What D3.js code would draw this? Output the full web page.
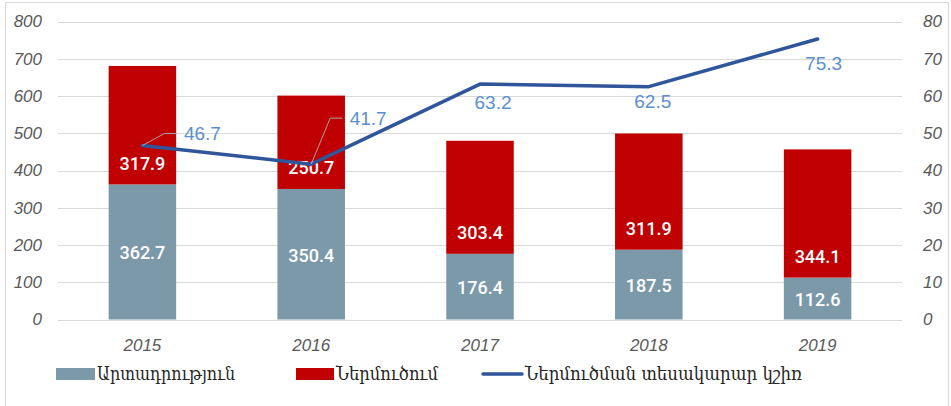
<!DOCTYPE html>
<html>
<head>
<meta charset="utf-8">
<script src="https://cdn.jsdelivr.net/npm/d3@7"></script>
<style>
  body { margin: 0; background: #fff; }
  svg { display: block; }
</style>
</head>
<body>
<div class="chart"></div>
<script>
// chart data
let years = ["2015", "2016", "2017", "2018", "2019"];
let production = [362.7, 350.4, 176.4, 187.5, 112.6]; // Արտադրություն
let imports = [317.9, 250.7, 303.4, 311.9, 344.1]; // Ներմուծում
let importShare = [46.7, 41.7, 63.2, 62.5, 75.3]; // Ներմուծման տեսակարար կշիռ
let leftTicks = [0, 100, 200, 300, 400, 500, 600, 700, 800];
let rightTicks = [0, 10, 20, 30, 40, 50, 60, 70, 80];
let seriesNames = ["Արտադրություն", "Ներմուծում", "Ներմուծման տեսակարար կշիռ"];

// line label placement relative to the point [dx, dy, hasLeader]
let shareLabelPos = [
  [60, -12, true],
  [57, -46, true],
  [13, 18, false],
  [4, 15, false],
  [6, 24, false],
];

let attrs = {
  width: 951,
  height: 406,
  left: 58,
  right: 902,
  top: 21.5,
  bottom: 319.5,
  grayColor: "#7c99aa",
  redColor: "#c00000",
  lineColor: "#2f559b",
  labelBlue: "#5b8fcf",
  gridColor: "#d9d9d9",
  tickColor: "#595959",
  tickFont: "'Liberation Sans', Arial, sans-serif",
  legendFont: "'DejaVu Serif', serif",
};

let svg = d3
  .select(".chart")
  .append("svg")
  .attr("width", attrs.width)
  .attr("height", attrs.height);

// outer frame
svg
  .append("rect")
  .attr("x", 5.5)
  .attr("y", 2.5)
  .attr("width", 943)
  .attr("height", 420)
  .attr("fill", "#fff")
  .attr("stroke", "#d9d9d9");

let x = d3
  .scaleBand()
  .domain(years)
  .range([attrs.left, attrs.right])
  .paddingInner(0.6)
  .paddingOuter(0.3);

let y = d3.scaleLinear().domain([0, 800]).range([attrs.bottom, attrs.top]);
let y2 = d3.scaleLinear().domain([0, 80]).range([attrs.bottom, attrs.top]);

// gridlines
svg
  .append("g")
  .selectAll("line")
  .data(leftTicks)
  .enter()
  .append("line")
  .attr("x1", attrs.left)
  .attr("x2", attrs.right)
  .attr("y1", (d) => Math.round(y(d)) + 0.5)
  .attr("y2", (d) => Math.round(y(d)) + 0.5)
  .attr("stroke", attrs.gridColor)
  .attr("stroke-width", 1);

// left axis
let leftAxis = svg
  .append("g")
  .attr("transform", "translate(42,0)")
  .call(d3.axisLeft(y).tickValues(leftTicks).tickSize(0).tickPadding(0));
leftAxis.select(".domain").remove();
leftAxis
  .selectAll("text")
  .attr("font-family", attrs.tickFont)
  .attr("font-size", 17)
  .attr("font-style", "italic")
  .attr("fill", attrs.tickColor);

// right axis
let rightAxis = svg
  .append("g")
  .attr("transform", "translate(923,0)")
  .call(d3.axisRight(y2).tickValues(rightTicks).tickSize(0).tickPadding(0));
rightAxis.select(".domain").remove();
rightAxis
  .selectAll("text")
  .attr("font-family", attrs.tickFont)
  .attr("font-size", 17)
  .attr("font-style", "italic")
  .attr("fill", attrs.tickColor);

// x axis (years)
let bottomAxis = svg
  .append("g")
  .attr("transform", "translate(0," + (attrs.bottom + 19) + ")")
  .call(d3.axisBottom(x).tickSize(0).tickPadding(0));
bottomAxis.select(".domain").remove();
bottomAxis
  .selectAll("text")
  .attr("font-family", attrs.tickFont)
  .attr("font-size", 17)
  .attr("font-style", "italic")
  .attr("fill", attrs.tickColor);

// stacked bars
let rows = years.map((yr, i) => ({ year: yr, production: production[i], imports: imports[i] }));
let stack = d3.stack().keys(["production", "imports"])(rows);
let barColors = [attrs.grayColor, attrs.redColor];

svg
  .append("g")
  .selectAll("g")
  .data(stack)
  .enter()
  .append("g")
  .attr("fill", (d, i) => barColors[i])
  .selectAll("rect")
  .data((d) => d)
  .enter()
  .append("rect")
  .attr("x", (d) => x(d.data.year))
  .attr("width", x.bandwidth())
  .attr("y", (d) => y(d[1]))
  .attr("height", (d) => y(d[0]) - y(d[1]));

// bar value labels
let barLabelStyle = (sel) =>
  sel
    .attr("text-anchor", "middle")
    .attr("dominant-baseline", "central")
    .attr("font-family", "Roboto, 'Liberation Sans', sans-serif")
    .attr("font-weight", 500)
    .attr("font-size", 18)
    .attr("fill", "#fff");

svg
  .append("g")
  .selectAll("text")
  .data(stack[0])
  .enter()
  .append("text")
  .attr("x", (d) => x(d.data.year) + x.bandwidth() / 2)
  .attr("y", (d) => (y(d[0]) + y(d[1])) / 2 + 1)
  .text((d) => d.data.production.toFixed(1))
  .call(barLabelStyle);

svg
  .append("g")
  .selectAll("text")
  .data(stack[1])
  .enter()
  .append("text")
  .attr("x", (d) => x(d.data.year) + x.bandwidth() / 2)
  .attr("y", (d) => y(d[0]) - 21)
  .text((d) => d.data.imports.toFixed(1))
  .call(barLabelStyle);

// share line
let line = d3
  .line()
  .x((d, i) => x(years[i]) + x.bandwidth() / 2)
  .y((d) => y2(d));

svg
  .append("path")
  .datum(importShare)
  .attr("d", line)
  .attr("fill", "none")
  .attr("stroke", attrs.lineColor)
  .attr("stroke-width", 3.5)
  .attr("stroke-linejoin", "round")
  .attr("stroke-linecap", "round");

// share labels with leader lines
importShare.forEach((v, i) => {
  let px = x(years[i]) + x.bandwidth() / 2;
  let py = y2(v);
  let pos = shareLabelPos[i];
  let lx = px + pos[0];
  let ly = py + pos[1];
  if (pos[2]) {
    let textLeft = lx - 20;
    svg
      .append("polyline")
      .attr(
        "points",
        [
          [px, py],
          [textLeft - 18, ly],
          [textLeft - 6, ly],
        ].join(" ")
      )
      .attr("fill", "none")
      .attr("stroke", "#a6a6a6")
      .attr("stroke-width", 1);
  }
  svg
    .append("text")
    .attr("x", lx)
    .attr("y", ly)
    .attr("text-anchor", "middle")
    .attr("dominant-baseline", "central")
    .attr("font-family", attrs.tickFont)
    .attr("font-size", 19)
    .attr("fill", attrs.labelBlue)
    .text(v.toFixed(1));
});

// legend
let legendY = 374;
let legendItems = [
  { name: seriesNames[0], type: "rect", color: attrs.grayColor, x: 56, w: 39, tl: 138 },
  { name: seriesNames[1], type: "rect", color: attrs.redColor, x: 296, w: 38, tl: 102 },
  { name: seriesNames[2], type: "line", color: attrs.lineColor, x: 482, w: 41, tl: 277 },
];

let legend = svg.append("g");
legendItems.forEach((d) => {
  if (d.type === "rect") {
    legend
      .append("rect")
      .attr("x", d.x)
      .attr("y", legendY - 6)
      .attr("width", d.w)
      .attr("height", 12)
      .attr("fill", d.color);
  } else {
    legend
      .append("line")
      .attr("x1", d.x + 1)
      .attr("x2", d.x + d.w - 1)
      .attr("y1", legendY)
      .attr("y2", legendY)
      .attr("stroke", d.color)
      .attr("stroke-width", 3.5)
      .attr("stroke-linecap", "round");
  }
  legend
    .append("text")
    .attr("x", d.x + d.w + 2)
    .attr("y", legendY + 6)
    .attr("font-family", attrs.legendFont)
    .attr("font-size", 18)
    .attr("fill", "#262626")
    .attr("textLength", d.tl)
    .attr("lengthAdjust", "spacingAndGlyphs")
    .text(d.name);
});
</script>
</body>
</html>
